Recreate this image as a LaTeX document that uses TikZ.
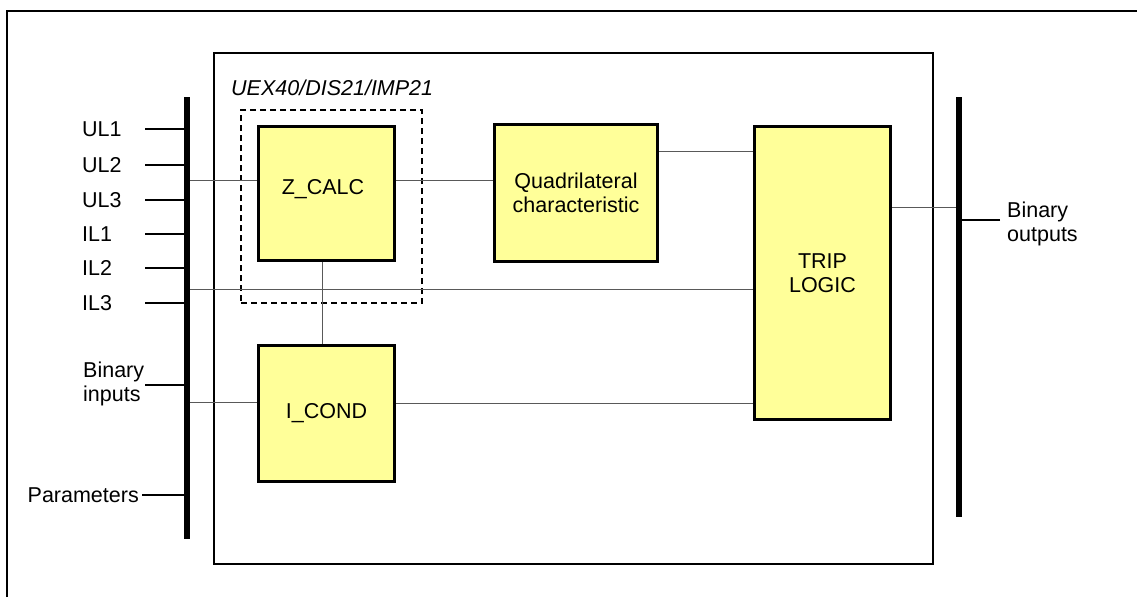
\documentclass[tikz,border=0pt]{standalone}
\usepackage{fontspec}
\setmainfont{Liberation Sans}
\definecolor{boxyellow}{HTML}{FFFF99}
\begin{document}
\begin{tikzpicture}[x=1pt,y=-1pt,
  every node/.style={font=\fontsize{21.5}{24.5}\selectfont},
  block/.style={draw=black, line width=2.5pt, fill=boxyellow, inner sep=0pt, align=center},
  bus/.style={fill=black, draw=none, minimum width=6pt, inner sep=0pt},
  conn/.style={draw=black!65, line width=1pt},
  stub/.style={draw=black, line width=1.2pt},
  lbl/.style={inner sep=0pt, align=left},
  frame/.style={draw=black, line width=1.6pt}
]
\useasboundingbox (0,0) rectangle (1137,597);
% outer frame (cropped)
\draw[line width=2pt] (7,597) -- (7,11) -- (1137,11);
% inner frame
\node[frame, minimum width=719pt, minimum height=511pt, inner sep=0pt] (inner) at (573.5,308.5) {};
\node[anchor=west, inner sep=0pt, font=\fontsize{21.5}{24.5}\selectfont\itshape] (title) at (231,88) {UEX40/DIS21/IMP21};
% dashed group
\node[draw=black, line width=1.6pt, dash pattern=on 6pt off 4pt, minimum width=181pt, minimum height=193pt, inner sep=0pt] (grp) at (331.5,206.5) {};
% buses
\node[bus, minimum height=442pt] (lbus) at (187,318) {};
\node[bus, minimum height=420pt] (rbus) at (959,307) {};
% blocks
\node[block, minimum width=136pt, minimum height=134pt] (zcalc) at (326.5,193.5) {};
\node[inner sep=0pt] (zcalctxt) at (323,189) {Z\_CALC};
\node[block, minimum width=136pt, minimum height=136pt] (icond) at (326.5,413.5) {I\_COND};
\node[block, minimum width=163pt, minimum height=137pt] (quad) at (576,193) {Quadrilateral\\characteristic};
\node[block, minimum width=136pt, minimum height=293pt] (trip) at (822.5,273) {TRIP\\LOGIC};
% input labels
\foreach \n/\t/\y in {ul1/UL1/129, ul2/UL2/165, ul3/UL3/200, il1/IL1/234, il2/IL2/268, il3/IL3/303}{
  \node[lbl, anchor=west] (\n) at (82,\y) {\t};
  \coordinate (\n s) at (145,\y);
  \draw[stub] (\n s) -- (\n s -| lbus.west);
}
\node[lbl, anchor=west] (binin) at (83,384) {Binary\\inputs};
\coordinate (bins) at (145,385);
\draw[stub] (bins) -- (bins -| lbus.west);
\node[lbl, anchor=east] (par) at (139,495) {Parameters};
\coordinate (pars) at (142,495);
\draw[stub] (pars) -- (pars -| lbus.west);
% output label
\node[lbl, anchor=west] (binout) at (1007,224) {Binary\\outputs};
\coordinate (bouts) at (1000,220);
\draw[stub] (bouts) -- (bouts -| rbus.east);
% connectors
\coordinate (zin) at (190,180);
\draw[conn] (zin) -- (zin -| zcalc.west);
\coordinate (zq) at (396,180);
\draw[conn] (zq) -- (zq -| quad.west);
\coordinate (qt) at (659,151);
\draw[conn] (qt) -- (qt -| trip.west);
\coordinate (il3c) at (190,289);
\draw[conn] (il3c) -- (il3c -| trip.west);
\coordinate (iin) at (190,402);
\draw[conn] (iin) -- (iin -| icond.west);
\coordinate (it) at (396,403);
\draw[conn] (it) -- (it -| trip.west);
\coordinate (zi) at (322,262);
\draw[conn] (zi) -- (zi |- icond.north);
\coordinate (to) at (892,207);
\draw[conn] (to) -- (to -| rbus.west);
\end{tikzpicture}
\end{document}
